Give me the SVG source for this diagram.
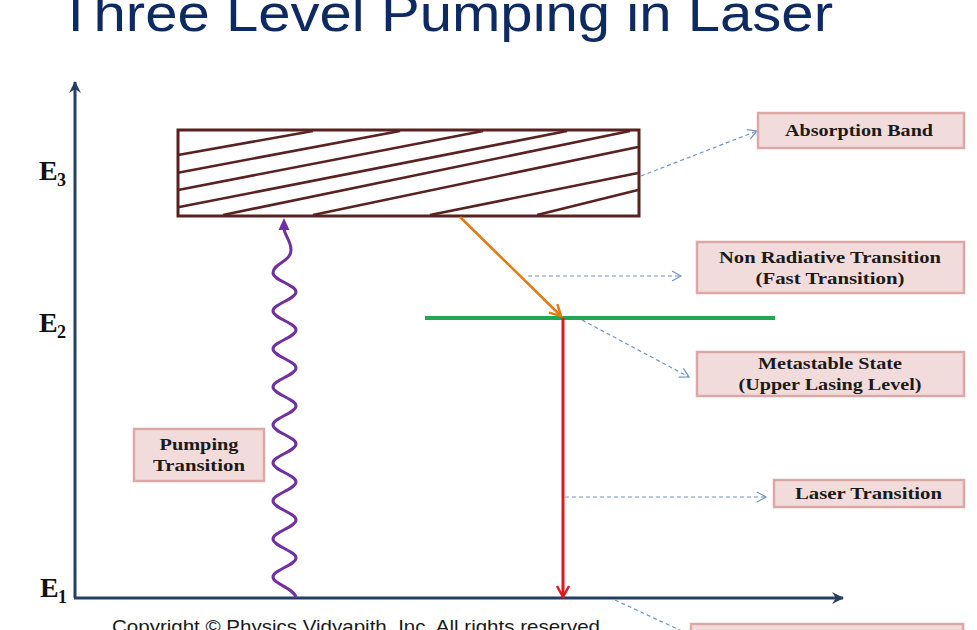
<svg xmlns="http://www.w3.org/2000/svg" width="977" height="630" viewBox="0 0 977 630">
<style>
.title{font-family:"Liberation Sans",Arial,sans-serif;font-size:52px;fill:#0d2a62}
.copy{font-family:"Liberation Sans",Arial,sans-serif;font-size:19px;fill:#1a1a1a}
.elab{font-family:"Liberation Serif","Times New Roman",serif;font-weight:bold;font-size:28px;fill:#111}
.esub{font-family:"Liberation Serif","Times New Roman",serif;font-weight:bold;font-size:18px;fill:#111}
.box{fill:#f2dcdb;stroke:#dba8a6;stroke-width:2.5}
.btxt{font-family:"Liberation Serif","Times New Roman",serif;font-weight:bold;font-size:16.5px;fill:#1a1a1a;text-anchor:middle}
.axis{stroke:#243f60;stroke-width:3;fill:none}
.hatch{stroke:#5a2121;stroke-width:2.6;fill:none}
.dash{stroke:#6f93c2;stroke-width:1.2;stroke-dasharray:4 3;fill:none}
</style>
<defs>
<marker id="axArr" markerUnits="userSpaceOnUse" markerWidth="16" markerHeight="16" refX="12" refY="7" orient="auto">
<path d="M1,1 L13,7 L1,13 L5,7 Z" fill="#243f60"/>
</marker>
<marker id="orArr" markerUnits="userSpaceOnUse" markerWidth="20" markerHeight="20" refX="13" refY="8" orient="auto">
<path d="M2,2 L13,8 L2,14" fill="none" stroke="#e47a14" stroke-width="2.5"/>
</marker>
<marker id="rdArr" markerUnits="userSpaceOnUse" markerWidth="20" markerHeight="20" refX="13" refY="8" orient="auto">
<path d="M2,2 L13,8 L2,14" fill="none" stroke="#e0191f" stroke-width="2.5"/>
</marker>
<marker id="dArr" markerUnits="userSpaceOnUse" markerWidth="16" markerHeight="16" refX="11" refY="7" orient="auto">
<path d="M2,2 L11,7 L2,12" fill="none" stroke="#6f93c2" stroke-width="1.2"/>
</marker>
</defs>
<rect width="977" height="630" fill="#ffffff"/>

<text class="title" x="58" y="31" textLength="775" lengthAdjust="spacingAndGlyphs">Three Level Pumping in Laser</text>

<g id="axes">
<line class="axis" x1="75" y1="598" x2="75" y2="82" marker-end="url(#axArr)"/>
<line class="axis" x1="74" y1="598" x2="843" y2="598" marker-end="url(#axArr)"/>
</g>

<g id="E3"><text class="elab" x="39" y="180">E</text><text class="esub" x="57" y="186">3</text></g>
<g id="E2"><text class="elab" x="39" y="332">E</text><text class="esub" x="57" y="338">2</text></g>
<g id="E1"><text class="elab" x="40" y="597">E</text><text class="esub" x="58" y="603">1</text></g>

<g id="absorption-band-level">
<rect x="178" y="130" width="461" height="86" fill="none" stroke="#5a2121" stroke-width="3"/>
<line class="hatch" x1="178" y1="155" x2="313" y2="131"/>
<line class="hatch" x1="178" y1="172.7" x2="400" y2="131"/>
<line class="hatch" x1="178" y1="190" x2="483" y2="131"/>
<line class="hatch" x1="178" y1="207.3" x2="567" y2="131"/>
<line class="hatch" x1="223" y1="215" x2="630" y2="131"/>
<line class="hatch" x1="313" y1="215" x2="638" y2="147"/>
<line class="hatch" x1="430" y1="215" x2="638" y2="173"/>
<line class="hatch" x1="537" y1="215" x2="638" y2="190"/>
</g>

<g id="metastable-level">
<line x1="425" y1="318" x2="775" y2="318" stroke="#1fa84f" stroke-width="4"/>
</g>

<g id="connectors">
<path d="M296 598 C296 589,273 584,273 577 C273 570,296 565,296 558 C296 551,273 546,273 539 C273 532,296 527,296 520 C296 513,273 508,273 501 C273 494,296 489,296 482 C296 475,273 470,273 463 C273 456,296 451,296 444 C296 437,273 432,273 425 C273 418,296 413,296 406 C296 399,273 394,273 387 C273 380,296 375,296 368 C296 361,273 356,273 349 C273 342,296 337,296 330 C296 323,273 318,273 311 C273 304,296 299,296 292 C296 285,273 280,273 273 C273 263,291 262,291 250 C291 241,285 236,284 229" fill="none" stroke="#7030a0" stroke-width="3"/>
<polygon points="284,218 278.5,230 289.5,230" fill="#7030a0"/>
<line x1="460" y1="217" x2="561" y2="316" stroke="#e47a14" stroke-width="2.6" marker-end="url(#orArr)"/>
<line x1="563" y1="318" x2="563" y2="597" stroke="#e0191f" stroke-width="3" marker-end="url(#rdArr)"/>
<line class="dash" x1="641" y1="176" x2="757" y2="131" marker-end="url(#dArr)"/>
<line class="dash" x1="528" y1="276" x2="681" y2="276" marker-end="url(#dArr)"/>
<line class="dash" x1="582" y1="320" x2="689" y2="377" marker-end="url(#dArr)"/>
<line class="dash" x1="565" y1="497" x2="766" y2="497" marker-end="url(#dArr)"/>
<line class="dash" x1="615" y1="600" x2="684" y2="632"/>
</g>

<g id="absorption-band">
<rect class="box" x="758" y="113" width="206" height="35"/>
<text class="btxt" x="859" y="136" textLength="148" lengthAdjust="spacingAndGlyphs">Absorption Band</text>
</g>
<g id="non-radiative">
<rect class="box" x="697" y="242" width="267" height="51"/>
<text class="btxt" x="830" y="263" textLength="222" lengthAdjust="spacingAndGlyphs">Non Radiative Transition</text>
<text class="btxt" x="830" y="284" textLength="149" lengthAdjust="spacingAndGlyphs">(Fast Transition)</text>
</g>
<g id="metastable-state">
<rect class="box" x="697" y="352" width="267" height="44"/>
<text class="btxt" x="830" y="369" textLength="144" lengthAdjust="spacingAndGlyphs">Metastable State</text>
<text class="btxt" x="830" y="390" textLength="183" lengthAdjust="spacingAndGlyphs">(Upper Lasing Level)</text>
</g>
<g id="laser-transition">
<rect class="box" x="774" y="480" width="190" height="27"/>
<text class="btxt" x="868.5" y="499" textLength="147" lengthAdjust="spacingAndGlyphs">Laser Transition</text>
</g>
<g id="pumping-transition">
<rect class="box" x="134" y="429" width="130" height="52"/>
<text class="btxt" x="199" y="450" textLength="79" lengthAdjust="spacingAndGlyphs">Pumping</text>
<text class="btxt" x="199" y="471" textLength="92" lengthAdjust="spacingAndGlyphs">Transition</text>
</g>
<g id="bottom-box">
<rect class="box" x="691" y="624" width="272" height="20"/>
</g>

<text class="copy" x="112" y="633" textLength="488" lengthAdjust="spacingAndGlyphs">Copyright © Physics Vidyapith, Inc. All rights reserved</text>
</svg>
